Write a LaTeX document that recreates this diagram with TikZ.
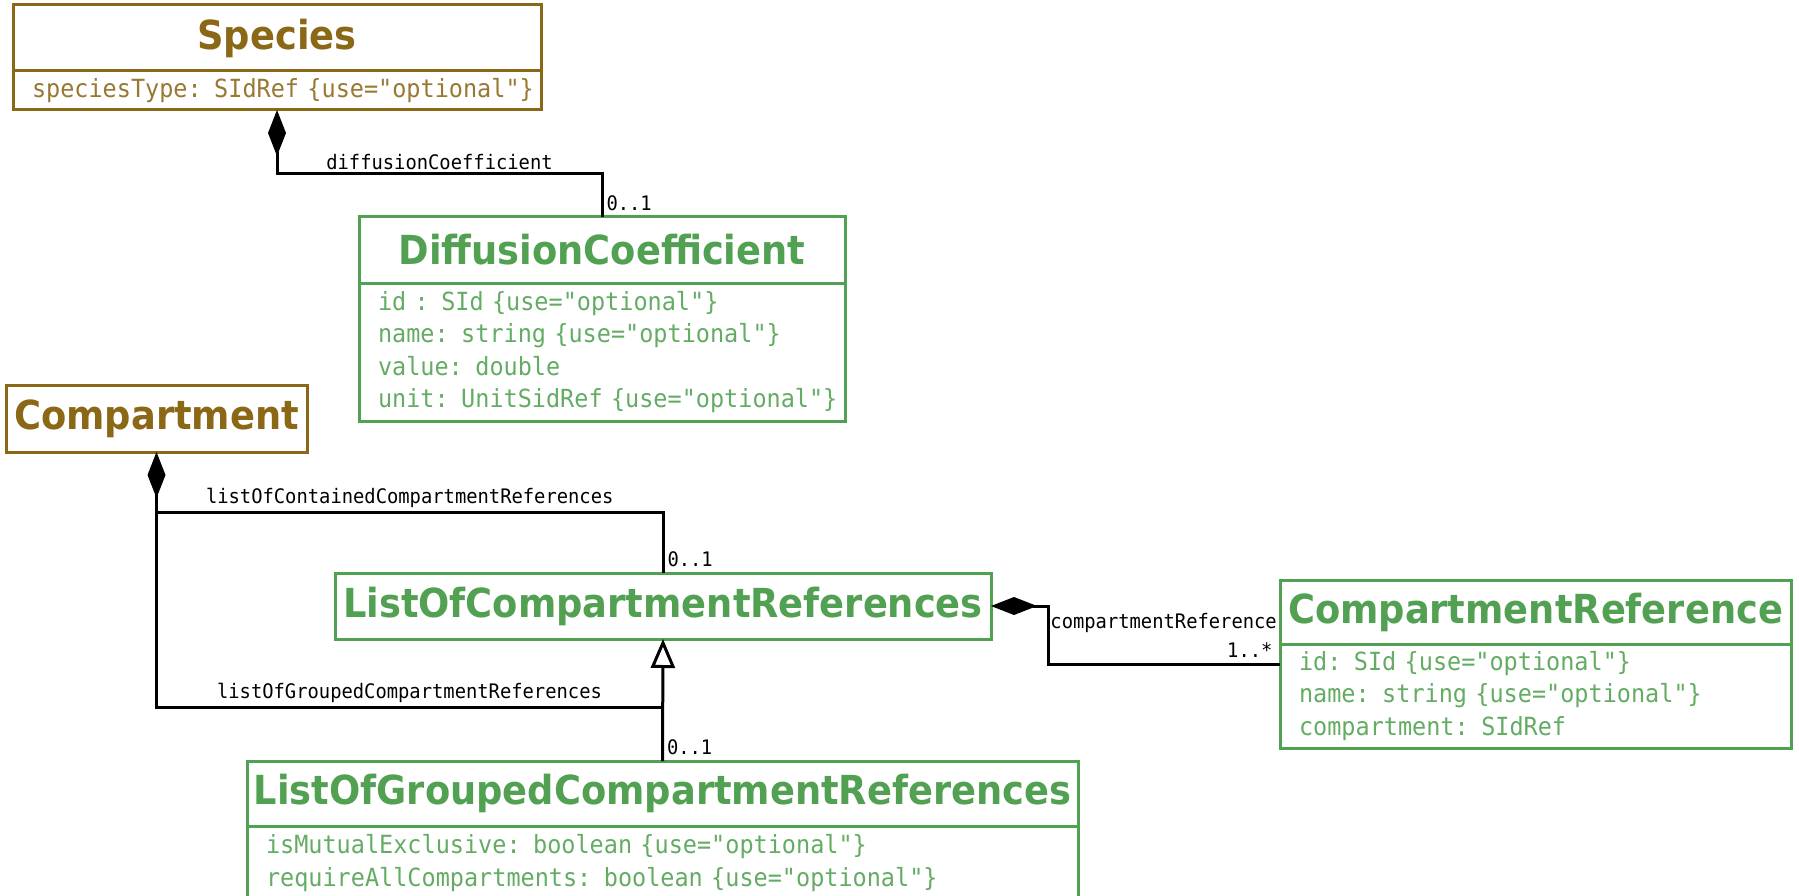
\documentclass[tikz,border=0pt]{standalone}
\usepackage{fontspec}
\usetikzlibrary{positioning, arrows.meta}
\newfontfamily\titlefont{DejaVu Sans}[FakeStretch=0.92]
\newfontfamily\codefont{DejaVu Sans Mono}[FakeStretch=0.94]
\definecolor{corebrown}{RGB}{139,104,22}
\definecolor{corebrownlt}{RGB}{152,120,50}
\definecolor{pkggreen}{RGB}{82,160,82}
\definecolor{pkggreenlt}{RGB}{100,172,100}
\tikzset{
klass/.style={draw, line width=3pt, fill=white, inner sep=0pt, outer sep=0pt, anchor=north west, font=\titlefont\bfseries\fontsize{40}{48}\selectfont}, % class name box
attrs/.style={draw, line width=3pt, fill=white, inner xsep=19pt, inner ysep=0pt, outer sep=0pt, below=0pt of #1, align=left, font=\codefont\fontsize{25}{32.5}\selectfont}, % attribute box under a class name
core/.style={draw=corebrown, text=corebrown}, % classes from the core
coreattr/.style={draw=corebrown, text=corebrownlt},
pkg/.style={draw=pkggreen, text=pkggreen}, % classes of the package
pkgattr/.style={draw=pkggreen, text=pkggreenlt},
role/.style={font=\codefont\fontsize{20}{24}\selectfont, inner sep=3pt}, % role names on the lines
mult/.style={role, inner ysep=5pt}, % multiplicities
assoc/.style={line width=3pt},
compose/.style={assoc, {Diamond[length=46pt,width=18pt]}-}, % filled diamond at the owner
inherit/.style={assoc, -{Triangle[length=29pt,width=24pt,fill=white]}}, % hollow triangle at the parent
}

\begin{document}
\begin{tikzpicture}[x=1pt, y=-1pt]
    \useasboundingbox (0,0) rectangle (1799,896);
    % classes
    \node[klass, core, minimum width=528pt, minimum height=66pt] (spT) at (13,5) {Species};
    \node[attrs=spT, coreattr, text width=490pt, minimum height=39pt] (spA) {\mbox{speciesType: SIdRef \{use="optional"\}}};
    \node[klass, pkg, minimum width=486pt, minimum height=66pt] (dcT) at (359,217) {DiffusionCoefficient};
    \node[attrs=dcT, pkgattr, text width=448pt, minimum height=138pt] (dcA) {\mbox{id : SId \{use="optional"\}}\\\mbox{name: string \{use="optional"\}}\\\mbox{value: double}\\\mbox{unit: UnitSidRef \{use="optional"\}}};
    \node[klass, core, minimum width=301pt, minimum height=67pt] (compT) at (6,385) {Compartment};
    \node[klass, pkg, minimum width=656pt, minimum height=66pt] (locrT) at (335,573) {ListOfCompartmentReferences};
    \node[klass, pkg, minimum width=831pt, minimum height=65pt] (logT) at (247,761) {ListOfGroupedCompartmentReferences};
    \node[attrs=logT, pkgattr, text width=793pt, minimum height=74pt] (logA) {\mbox{isMutualExclusive: boolean \{use="optional"\}}\\\mbox{requireAllCompartments: boolean \{use="optional"\}}};
    \node[klass, pkg, minimum width=511pt, minimum height=64pt] (crT) at (1280,580) {CompartmentReference};
    \node[attrs=crT, pkgattr, text width=473pt, minimum height=104pt] (crA) {\mbox{id: SId \{use="optional"\}}\\\mbox{name: string \{use="optional"\}}\\\mbox{compartment: SIdRef}};
    % connectors
    \draw[compose] (spA.south) -- ++(0,64) -| node[pos=.25, above, role] {diffusionCoefficient} node[pos=1, mult, anchor=south west] {0..1} (dcT.north);
    \draw[compose] (compT.south) -- ++(0,60) -| node[pos=.25, above, role] {listOfContainedCompartmentReferences} node[pos=1, mult, anchor=south west] {0..1} (locrT.north);
    \draw[assoc] (compT.south) ++(0,60) -- ++(0,195) -| node[pos=.25, above, role] {listOfGroupedCompartmentReferences} node[pos=1, mult, anchor=south west] {0..1} (logT.north);
    \draw[inherit] (logT.north) -- (locrT.south);
    \draw[compose] (locrT.east) -- ++(57,0) |- node[pos=1, mult, inner xsep=6pt, anchor=south east] (crM) {1..*} ([yshift=-20pt]crA.north west);
    \node[role, anchor=south east] (crR) at (crM.north east) {compartmentReference};
\end{tikzpicture}
\end{document}
